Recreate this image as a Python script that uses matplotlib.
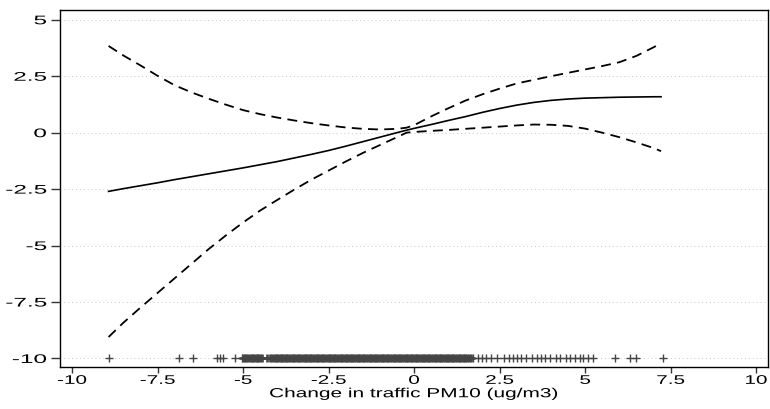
import numpy as np
import matplotlib
matplotlib.use('Agg')
import matplotlib.pyplot as plt
from matplotlib.patheffects import AbstractPathEffect
from matplotlib.transforms import Affine2D

plt.rcParams['font.family'] = ['Liberation Sans', 'DejaVu Sans']
plt.rcParams['axes.unicode_minus'] = False

# fitted spline and 95% band
curve_x = [-8.93, -8.5, -8.0, -7.5, -7.0, -6.5, -6.0, -5.5, -5.0, -4.5, -4.0, -3.5,
           -3.0, -2.5, -2.0, -1.5, -1.0, -0.5, -0.22, 0.0, 0.5, 1.0, 1.5, 2.0, 2.5,
           3.0, 3.5, 4.0, 4.5, 5.0, 5.5, 6.0, 6.5, 7.0, 7.22]
fit = [-2.60, -2.48, -2.35, -2.22, -2.08, -1.95, -1.82, -1.69, -1.56, -1.42, -1.28, -1.12,
       -0.96, -0.79, -0.60, -0.40, -0.20, 0.00, 0.11, 0.19, 0.36, 0.54, 0.71, 0.90, 1.07,
       1.22, 1.34, 1.43, 1.49, 1.53, 1.55, 1.57, 1.58, 1.59, 1.59]
upper = [3.84, 3.42, 2.98, 2.52, 2.10, 1.78, 1.50, 1.24, 1.00, 0.82, 0.67, 0.54,
         0.42, 0.32, 0.23, 0.17, 0.14, 0.17, 0.22, 0.33, 0.72, 1.08, 1.42, 1.70, 1.95,
         2.18, 2.34, 2.50, 2.65, 2.80, 2.95, 3.12, 3.40, 3.78, 3.96]
lower = [-9.05, -8.42, -7.75, -7.10, -6.45, -5.80, -5.15, -4.55, -3.98, -3.45, -2.98, -2.52,
         -2.08, -1.68, -1.28, -0.90, -0.55, -0.20, 0.00, 0.03, 0.08, 0.12, 0.17, 0.22, 0.27,
         0.32, 0.36, 0.35, 0.30, 0.18, 0.00, -0.20, -0.43, -0.68, -0.82]

# observed exposure changes (rug along the bottom)
rug_sparse = [-8.93, -6.86, -6.45, -5.77, -5.68, -5.60, -5.23, -5.04,
              1.72, 1.87, 2.00, 2.11, 2.26, 2.41, 2.63, 2.77, 2.89, 3.01, 3.13, 3.26,
              3.46, 3.60, 3.72, 3.84, 3.96, 4.15, 4.28, 4.43, 4.57, 4.69, 4.84, 4.95,
              5.08, 5.22, 5.86, 6.30, 6.49, 7.27]
rug_dense = [-5.00, -4.95, -4.90, -4.85, -4.80, -4.75, -4.70, -4.65, -4.60, -4.55,
             -4.50, -4.45, -4.31, -4.20, -4.15, -4.10, -4.05, -4.00, -3.95, -3.90,
             -3.85, -3.80, -3.75, -3.70, -3.65, -3.60, -3.55, -3.50, -3.45, -3.40,
             -3.35, -3.30, -3.25, -3.20, -3.15, -3.10, -3.05, -3.00, -2.95, -2.90,
             -2.85, -2.80, -2.75, -2.70, -2.65, -2.60, -2.55, -2.50, -2.45, -2.40,
             -2.35, -2.30, -2.25, -2.20, -2.15, -2.10, -2.05, -2.00, -1.95, -1.90,
             -1.85, -1.80, -1.75, -1.70, -1.65, -1.60, -1.55, -1.50, -1.45, -1.40,
             -1.35, -1.30, -1.25, -1.20, -1.15, -1.10, -1.05, -1.00, -0.95, -0.90,
             -0.85, -0.80, -0.75, -0.70, -0.65, -0.60, -0.55, -0.50, -0.45, -0.40,
             -0.35, -0.30, -0.25, -0.20, -0.15, -0.10, -0.05, 0.00, 0.05, 0.10,
             0.15, 0.20, 0.25, 0.30, 0.35, 0.40, 0.45, 0.50, 0.55, 0.60,
             0.65, 0.70, 0.75, 0.80, 0.85, 0.90, 0.95, 1.00, 1.05, 1.10,
             1.15, 1.20, 1.25, 1.30, 1.35, 1.40, 1.45, 1.50, 1.55, 1.60, 1.65]
rug_y = -10

xticks = [-10, -7.5, -5, -2.5, 0, 2.5, 5, 7.5, 10]
xtick_labels = ['-10', '-7.5', '-5', '-2.5', '0', '2.5', '5', '7.5', '10']
yticks = [5, 2.5, 0, -2.5, -5, -7.5, -10]
ytick_labels = ['5', '2.5', '0', '-2.5', '-5', '-7.5', '-10']


class Widen(AbstractPathEffect):
    """Stretch glyphs horizontally about the left/center/right of the text."""

    def __init__(self, sx, anchor='center'):
        super().__init__()
        self.sx = sx
        self.anchor = anchor

    def draw_path(self, renderer, gc, tpath, affine, rgbFace=None):
        ext = tpath.get_extents()
        x0 = {'left': ext.x0, 'center': 0.5 * (ext.x0 + ext.x1),
              'right': ext.x1}[self.anchor]
        wide = Affine2D().translate(-x0, 0).scale(self.sx, 1).translate(x0, 0)
        renderer.draw_path(gc, tpath, wide + affine, rgbFace)


fig = plt.figure(figsize=(7.7, 4.09), dpi=100)
ax = fig.add_axes([0.0775, 0.1015, 0.9205, 0.875])

ax.set_xlim(-10.36, 10.36)
ax.set_ylim(-10.4, 5.45)

ax.set_yticks(yticks)
ax.set_yticklabels(ytick_labels)
ax.set_xticks(xticks)
ax.set_xticklabels(xtick_labels)
ax.yaxis.grid(True, linestyle=(0, (1, 3)), color='#c8c8c8', linewidth=0.7)
ax.set_axisbelow(True)

dash = (0, (5.5, 3.5))
ax.plot(curve_x, fit, color='black', lw=1.2)
ax.plot(curve_x, upper, color='black', lw=1.3, linestyle=dash)
ax.plot(curve_x, lower, color='black', lw=1.3, linestyle=dash)

ax.plot(rug_dense, [rug_y] * len(rug_dense), linestyle='none', marker='+',
        ms=5.5, mew=1.9, color='#444444')
ax.plot(rug_sparse, [rug_y] * len(rug_sparse), linestyle='none', marker='+',
        ms=5.5, mew=1.0, color='#444444')

for s in ax.spines.values():
    s.set_linewidth(1.0)
ax.tick_params(direction='out', width=1.0, labelsize=9, color='#333333')
ax.tick_params(axis='x', length=4.3, pad=1)
ax.tick_params(axis='y', length=6.5, pad=3)

for lab in ax.get_xticklabels():
    lab.set_path_effects([Widen(1.66, 'center')])
for lab in ax.get_yticklabels():
    lab.set_path_effects([Widen(1.95, 'right')])

xl = ax.set_xlabel('Change in traffic PM10 (ug/m3)', fontsize=9.5, labelpad=1)
xl.set_path_effects([Widen(1.58, 'center')])

fig.savefig('out.png', dpi=100)
